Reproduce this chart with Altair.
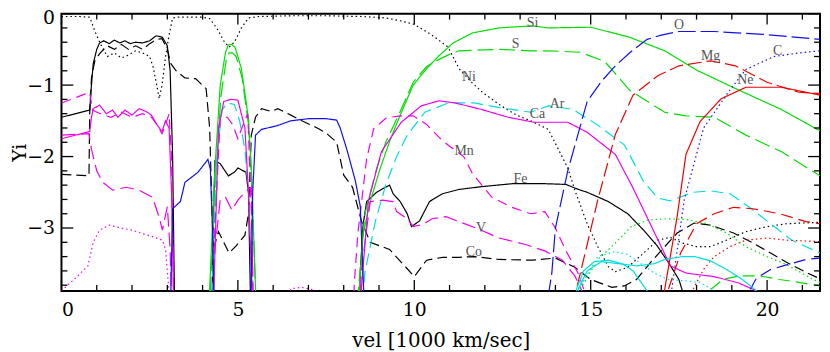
import altair as alt
import pandas as pd

LOW = -4.6

# ---- series data (x in 1000 km/s, y = log abundance) ----
NI_X = [0, 0.5, 0.8, 0.95, 1.1, 1.3, 1.5, 1.7, 1.9, 2.1, 2.3, 2.5, 2.6, 2.7, 2.77, 2.85, 2.95, 3.05, 3.15, 3.3, 3.6, 4.0, 4.2, 4.4, 4.6, 4.75, 4.9, 5.1, 5.3, 5.6, 6.5, 7.5, 8.5, 9.2, 9.6, 10.0, 10.5, 10.96, 11.27, 11.6, 11.93, 12.46, 12.9, 13.3, 13.8, 14.35, 14.55, 14.9, 15.2, 15.5, 15.7, 16.05, 16.5, 16.9, 17.25, 17.6, 18.0, 18.4, 18.85, 19.4, 20.0, 20.55, 21.5]
NI_Y = [-0.04, -0.04, -0.05, -0.25, -0.42, -0.6, -0.55, -0.62, -0.58, -0.52, -0.55, -0.6, -0.75, -1.0, -1.19, -1.0, -0.6, -0.3, -0.06, -0.05, -0.05, -0.05, -0.07, -0.2, -0.38, -0.47, -0.4, -0.2, -0.06, -0.04, -0.03, -0.03, -0.04, -0.06, -0.1, -0.15, -0.3, -0.47, -0.77, -0.95, -1.1, -1.29, -1.42, -1.5, -1.62, -2.16, -2.47, -2.94, -3.26, -3.54, -3.61, -3.55, -3.35, -3.17, -3.13, -3.21, -3.26, -3.26, -3.17, -3.05, -2.98, -2.94, -2.92]

FE_X = [0, 0.8, 0.85, 0.9, 1.0, 1.08, 1.2, 1.35, 1.5, 1.65, 1.8, 1.95, 2.1, 2.3, 2.5, 2.68, 2.86, 3.0, 3.08, 3.15, 3.22, 4.25, 4.3, 4.35, 4.5, 4.73, 4.9, 5.0, 5.23, 5.3, 5.38, 8.4, 8.45, 8.55, 8.65, 8.93, 9.1, 9.3, 9.4, 9.6, 9.8, 9.92, 10.15, 10.43, 10.8, 11.27, 11.93, 12.77, 13.72, 14.3, 14.65, 14.9, 15.5, 16.05, 16.5, 16.9, 17.2, 17.5, 17.6, 17.7]
FE_Y = [-1.45, -1.35, -1.0, -0.7, -0.5, -0.41, -0.38, -0.42, -0.37, -0.41, -0.38, -0.42, -0.4, -0.41, -0.38, -0.31, -0.33, -0.45, -0.8, -2.0, LOW, LOW, -3.0, -2.06, -2.1, -2.27, -2.22, -2.16, -2.22, -2.5, LOW, LOW, -3.77, -2.95, -2.63, -2.5, -2.45, -2.4, -2.52, -2.63, -2.8, -2.98, -2.9, -2.63, -2.52, -2.46, -2.42, -2.38, -2.38, -2.39, -2.46, -2.5, -2.63, -2.8, -3.03, -3.26, -3.48, -3.72, -3.88, LOW]

CO_X = [0, 0.78, 0.8, 0.85, 0.95, 1.1, 1.3, 1.5, 1.7, 1.9, 2.1, 2.3, 2.5, 2.7, 2.85, 3.0, 3.1, 3.25, 3.5, 3.8, 4.1, 4.2, 4.3, 4.45, 4.6, 4.75, 4.95, 5.2, 5.3, 5.38, 5.5, 5.67, 5.95, 6.13, 6.5, 6.78, 7.25, 7.5, 7.8, 8.0, 8.25, 8.5, 8.75, 9.3, 9.8, 10.0, 10.35, 10.8, 11.27, 11.7, 12.4, 13.35, 14.0, 14.55, 15.0, 15.6, 15.95, 16.3, 16.7, 17.1, 17.45, 17.93, 18.4, 19.05, 19.6, 20.1, 20.55, 21.1, 21.5]
CO_Y = [-2.25, -2.27, -1.4, -0.9, -0.65, -0.55, -0.45, -0.5, -0.43, -0.5, -0.45, -0.5, -0.42, -0.36, -0.35, -0.5, -0.7, -0.8, -0.9, -0.91, -1.05, -1.6, -3.3, -3.05, -3.2, -3.35, -3.25, -3.1, -2.8, -1.7, -1.45, -1.33, -1.37, -1.33, -1.42, -1.49, -1.6, -1.67, -1.8, -2.26, -2.43, -2.9, -3.2, -3.3, -3.57, -3.68, -3.45, -3.41, -3.41, -3.4, -3.44, -3.45, -3.42, -3.55, -3.72, -3.83, -3.81, -3.72, -3.48, -3.26, -3.07, -2.93, -2.96, -3.07, -3.21, -3.35, -3.48, -3.62, -3.71]

SI_X = [0, 4.15, 4.2, 4.35, 4.5, 4.65, 4.73, 4.82, 4.92, 5.1, 5.3, 5.38, 5.5, 5.55, 8.4, 8.45, 8.55, 8.75, 9.03, 9.3, 9.6, 9.97, 10.35, 10.7, 11.1, 11.65, 12.4, 13.35, 13.8, 15.0, 16.1, 17.1, 18.0, 19.2, 20.4, 21.5]
SI_Y = [LOW, LOW, -3.85, -2.16, -1.0, -0.54, -0.44, -0.43, -0.47, -0.77, -1.47, -2.16, -3.85, LOW, LOW, -3.77, -3.08, -2.63, -2.17, -1.79, -1.42, -1.0, -0.77, -0.59, -0.41, -0.27, -0.2, -0.17, -0.2, -0.19, -0.33, -0.52, -0.79, -1.07, -1.34, -1.64]

S_X = [0, 4.15, 4.22, 4.37, 4.52, 4.67, 4.75, 4.85, 4.95, 5.12, 5.3, 5.38, 5.5, 5.55, 8.35, 8.42, 8.6, 8.93, 9.2, 9.6, 9.97, 10.35, 10.7, 11.0, 11.27, 12.4, 13.35, 13.8, 14.7, 15.4, 16.1, 17.1, 17.7, 18.5, 19.4, 20.4, 21.5]
S_Y = [LOW, LOW, -3.85, -2.3, -1.15, -0.65, -0.55, -0.55, -0.6, -0.9, -1.55, -2.2, -3.85, LOW, LOW, -3.85, -2.8, -2.17, -1.79, -1.37, -0.96, -0.74, -0.64, -0.57, -0.52, -0.5, -0.52, -0.52, -0.54, -0.67, -1.07, -1.38, -1.43, -1.45, -1.7, -1.93, -2.27]

AR_X = [0, 4.2, 4.27, 4.4, 4.55, 4.7, 4.9, 5.05, 5.2, 5.3, 5.4, 5.45, 8.45, 8.6, 8.9, 9.2, 9.5, 9.8, 10.3, 10.96, 11.7, 12.46, 13.3, 13.8, 14.5, 15.2, 15.96, 16.5, 16.9, 17.25, 17.9, 18.4, 18.95, 19.5, 20.1, 20.7, 21.5]
AR_Y = [LOW, LOW, -3.85, -2.0, -1.35, -1.25, -1.27, -1.5, -1.9, -2.5, -3.85, LOW, LOW, -3.62, -2.9, -2.38, -2.0, -1.7, -1.38, -1.25, -1.25, -1.32, -1.38, -1.29, -1.34, -1.56, -1.84, -2.35, -2.58, -2.62, -2.5, -2.48, -2.52, -2.71, -2.94, -3.17, -3.35]

CA_X = [0, 0.8, 0.85, 0.9, 1.08, 1.27, 1.45, 1.6, 1.8, 2.0, 2.2, 2.4, 2.55, 2.7, 2.85, 2.95, 3.05, 3.12, 3.2, 4.25, 4.32, 4.45, 4.6, 4.8, 5.0, 5.2, 5.3, 5.4, 5.45, 8.4, 8.5, 8.7, 9.07, 9.63, 10.2, 10.7, 11.16, 11.9, 12.66, 13.4, 14.35, 14.9, 15.7, 16.2, 16.6, 16.9, 17.26, 17.7, 18.5, 19.2, 19.7, 19.8]
CA_Y = [-1.75, -1.65, -1.45, -1.33, -1.28, -1.4, -1.35, -1.45, -1.35, -1.42, -1.33, -1.37, -1.42, -1.55, -1.65, -1.5, -1.6, -2.5, LOW, LOW, -3.85, -1.6, -1.23, -1.2, -1.21, -1.6, -2.5, -3.85, LOW, LOW, -3.85, -2.62, -1.93, -1.52, -1.29, -1.22, -1.25, -1.34, -1.45, -1.52, -1.52, -1.66, -1.97, -2.44, -2.85, -3.16, -3.53, -3.63, -3.68, -3.77, -3.88, LOW]

MN_X = [0, 0.8, 0.88, 1.1, 1.4, 1.7, 2.0, 2.3, 2.55, 2.7, 2.85, 2.95, 3.05, 3.12, 3.2, 4.25, 4.35, 4.5, 4.7, 4.85, 5.0, 5.15, 5.28, 5.4, 5.45, 8.25, 8.3, 8.4, 8.65, 8.85, 9.2, 9.6, 9.97, 10.35, 10.8, 11.4, 11.65, 12.2, 12.77, 13.3, 13.7, 14.0, 14.3, 14.65, 14.8, 14.9]
MN_Y = [-1.25, -1.1, -1.35, -1.4, -1.45, -1.38, -1.45, -1.4, -1.45, -1.55, -1.68, -1.55, -1.4, -2.0, LOW, LOW, -3.0, -1.45, -1.45, -1.55, -1.75, -1.55, -1.4, -3.0, LOW, LOW, -3.77, -3.08, -2.03, -1.61, -1.46, -1.43, -1.43, -1.55, -1.78, -2.0, -2.24, -2.57, -2.71, -2.8, -2.77, -3.0, -3.32, -3.64, -3.85, LOW]

V_X = [0, 0.78, 0.85, 1.0, 1.17, 1.45, 1.84, 2.2, 2.58, 2.77, 2.86, 3.0, 3.08, 3.15, 4.25, 4.35, 4.5, 4.65, 4.83, 5.0, 5.2, 5.38, 5.45, 8.4, 8.5, 8.75, 9.1, 9.4, 9.5, 9.8, 9.97, 10.25, 10.5, 10.9, 11.85, 12.4, 13.15, 13.7, 14.2, 14.55, 14.75, 14.85]
V_Y = [-1.7, -1.68, -1.9, -2.2, -2.36, -2.47, -2.43, -2.47, -2.57, -2.85, -3.03, -2.7, -3.3, LOW, LOW, -3.3, -2.6, -2.57, -2.75, -2.61, -2.5, -2.43, LOW, LOW, -3.6, -2.63, -2.61, -2.63, -2.77, -2.87, -2.98, -2.95, -2.87, -2.84, -3.02, -3.14, -3.23, -3.32, -3.45, -3.67, -3.88, LOW]

CR_X = [0, 0.4, 0.75, 0.9, 1.08, 1.35, 1.7, 2.0, 2.3, 2.58, 2.86, 2.95, 3.05, 3.1, 6.2, 6.5, 6.8, 7.1, 7.4, 21.5]
CR_Y = [-3.88, -3.7, -3.53, -3.2, -3.03, -2.96, -3.0, -3.03, -3.08, -3.12, -3.17, -3.3, -3.9, LOW, LOW, -3.85, -3.83, -3.86, LOW, LOW]

TI_X = [0, 3.05, 3.1, 3.15, 3.37, 3.5, 3.87, 4.15, 4.22, 4.28, 4.35, 5.35, 5.42, 5.5, 5.67, 6.1, 6.5, 7.0, 7.5, 7.8, 7.9, 8.1, 8.33, 8.47, 8.56, 8.62, 21.5]
TI_Y = [LOW, LOW, -3.88, -2.73, -2.63, -2.36, -2.22, -2.04, -2.18, -3.0, LOW, LOW, -2.5, -1.7, -1.62, -1.57, -1.5, -1.47, -1.47, -1.49, -1.6, -1.92, -2.34, -2.7, -3.8, LOW, LOW]

O_X = [13.6, 13.9, 14.0, 14.35, 14.9, 15.3, 15.7, 16.1, 16.6, 17.0, 17.5, 18.5, 19.9, 21.5]
O_Y = [LOW, -3.62, -3.0, -2.2, -1.23, -0.95, -0.73, -0.55, -0.36, -0.3, -0.25, -0.25, -0.29, -0.36]

MG_X = [14.5, 14.6, 15.2, 15.7, 16.2, 16.9, 17.5, 18.4, 19.1, 20.0, 20.9, 21.5]
MG_Y = [LOW, -3.85, -2.61, -1.69, -1.14, -0.87, -0.73, -0.66, -0.73, -0.96, -1.1, -1.12]

NE_X = [17.0, 17.1, 17.45, 17.7, 18.1, 18.7, 19.4, 20.4, 21.5]
NE_Y = [LOW, -3.85, -2.84, -1.97, -1.51, -1.19, -1.03, -1.03, -1.14]

C_X = [17.2, 17.3, 17.65, 18.2, 18.9, 19.4, 20.2, 20.9, 21.5]
C_Y = [LOW, -3.85, -2.61, -1.6, -1.1, -0.78, -0.6, -0.55, -0.52]

NA_X = [17.1, 17.2, 17.55, 18.0, 18.5, 19.05, 19.6, 20.35, 21.1, 21.5]
NA_Y = [LOW, -3.86, -3.35, -2.94, -2.8, -2.71, -2.73, -2.8, -2.91, -2.94]

RDOT_X = [17.8, 17.9, 18.2, 18.5, 18.95, 19.4, 20.0, 20.55, 21.5]
RDOT_Y = [LOW, -3.86, -3.58, -3.4, -3.26, -3.17, -3.14, -3.17, -3.19]

GDOT_X = [14.6, 14.7, 15.2, 15.7, 16.15, 16.6, 17.1, 17.7, 18.3, 18.85, 19.4, 20.0, 20.55, 21.3, 21.5]
GDOT_Y = [LOW, -3.86, -3.44, -3.21, -2.98, -2.89, -2.87, -2.88, -2.94, -3.07, -3.26, -3.4, -3.51, -3.72, -3.76]

GDASH_X = [18.3, 18.4, 18.75, 19.2, 19.8, 20.35, 20.9, 21.5]
GDASH_Y = [LOW, -3.86, -3.72, -3.67, -3.67, -3.72, -3.76, -3.81]

BDASH_X = [19.4, 19.5, 19.7, 20.1, 20.45, 21.1, 21.5]
BDASH_Y = [LOW, -3.88, -3.7, -3.58, -3.53, -3.44, -3.42]

CYA_X = [14.5, 14.6, 14.8, 15.1, 15.5, 15.9, 16.2, 16.6, 16.7]
CYA_Y = [LOW, -3.85, -3.6, -3.47, -3.45, -3.5, -3.6, -3.88, LOW]

CYB_X = [14.55, 14.65, 14.9, 15.3, 15.8, 16.3, 16.8, 17.1, 17.6, 17.95, 18.4, 18.85, 19.3, 19.7, 19.8]
CYB_Y = [LOW, -3.85, -3.6, -3.47, -3.5, -3.53, -3.5, -3.44, -3.4, -3.4, -3.46, -3.58, -3.72, -3.88, LOW]

CYDOT_X = [14.55, 14.65, 15.2, 15.68, 16.05, 16.4, 16.8, 17.2, 17.7, 18.1, 18.5, 18.7]
CYDOT_Y = [LOW, -3.86, -3.4, -3.33, -3.37, -3.49, -3.63, -3.72, -3.74, -3.76, -3.88, LOW]

# labels on the curves
LABEL_TEXT = ["Si", "S", "Ni", "Ar", "Ca", "Mn", "Fe", "V", "Co", "O", "Mg", "C", "Ne"]
LABEL_X = [13.35, 12.87, 11.55, 14.05, 13.49, 11.41, 13.01, 11.89, 11.69, 17.5, 18.4, 20.3, 19.38]
LABEL_Y = [-0.13, -0.43, -0.89, -1.26, -1.41, -1.92, -2.31, -3.0, -3.34, -0.16, -0.6, -0.52, -0.93]

X_MAJOR = [0, 5, 10, 15, 20]
X_MINOR = [v for v in range(0, 22) if v % 5 != 0]
Y_MAJOR = [0, -1, -2, -3]
Y_MINOR = [-0.2, -0.4, -0.6, -0.8, -1.2, -1.4, -1.6, -1.8, -2.2, -2.4, -2.6, -2.8, -3.2, -3.4, -3.6, -3.8]

GREEN, BLUE, MAG, CYAN, RED, BLACK = "#00dd00", "#1010ee", "#ee00ee", "#00dddd", "#ee0000", "#000000"
SOLID, DOT = [1, 0], [1.5, 3]

SERIES = [
    ("Ni", NI_X, NI_Y, BLACK, DOT),
    ("Fe", FE_X, FE_Y, BLACK, SOLID),
    ("Co", CO_X, CO_Y, BLACK, [10, 5]),
    ("Si", SI_X, SI_Y, GREEN, SOLID),
    ("S", S_X, S_Y, GREEN, [16, 6]),
    ("Ar", AR_X, AR_Y, CYAN, [12, 6]),
    ("Ca", CA_X, CA_Y, MAG, SOLID),
    ("Mn", MN_X, MN_Y, MAG, [10, 6]),
    ("V", V_X, V_Y, MAG, [14, 6]),
    ("Cr", CR_X, CR_Y, MAG, DOT),
    ("Ti", TI_X, TI_Y, BLUE, SOLID),
    ("O", O_X, O_Y, BLUE, [18, 5]),
    ("Mg", MG_X, MG_Y, RED, [14, 5]),
    ("Ne", NE_X, NE_Y, RED, SOLID),
    ("C", C_X, C_Y, BLUE, DOT),
    ("Na", NA_X, NA_Y, RED, [12, 6]),
    ("Rdot", RDOT_X, RDOT_Y, RED, DOT),
    ("Gdot", GDOT_X, GDOT_Y, GREEN, DOT),
    ("Gdash", GDASH_X, GDASH_Y, GREEN, [12, 6]),
    ("Bdash", BDASH_X, BDASH_Y, BLUE, [12, 6]),
    ("CyA", CYA_X, CYA_Y, CYAN, SOLID),
    ("CyB", CYB_X, CYB_Y, CYAN, SOLID),
    ("Cydot", CYDOT_X, CYDOT_Y, CYAN, DOT),
]

rows = []
for name, xs, ys, _, _ in SERIES:
    for i, (xv, yv) in enumerate(zip(xs, ys)):
        rows.append({"series": name, "x": xv, "y": yv, "i": i})
df = pd.DataFrame(rows)

W, H = 766, 280
XMAX = 21.5
xscale = alt.Scale(domain=[0, XMAX], nice=False, zero=False)
yscale = alt.Scale(domain=[-3.88, 0.0], nice=False, zero=False)
FONT = "DejaVu Serif"

lines = alt.Chart(df).mark_line(clip=True, strokeWidth=1.2).encode(
    x=alt.X("x:Q", scale=xscale,
            axis=alt.Axis(values=X_MAJOR, format="d", ticks=False, domain=False, grid=False,
                          labelFont=FONT, labelFontSize=19, labelColor="black",
                          labelPadding=10, title="vel [1000 km/sec]", titleFont=FONT,
                          titleFontSize=20, titleFontWeight="normal", titleColor="black",
                          titlePadding=11)),
    y=alt.Y("y:Q", scale=yscale,
            axis=alt.Axis(values=Y_MAJOR, format="d", ticks=False, domain=False, grid=False,
                          labelFont=FONT, labelFontSize=19, labelColor="black",
                          labelPadding=7,
                          labelOffset={"condition": {"test": "datum.value == 0", "value": 4}, "value": 0},
                          title="Yi", titleFont=FONT, titleFontSize=19,
                          titleFontWeight="normal", titleColor="black",
                          titleX=-42, titleY=H / 2, titleAlign="center", titleBaseline="middle",
                          titleAngle=270)),
    color=alt.Color("series:N", scale=alt.Scale(domain=[s[0] for s in SERIES], range=[s[3] for s in SERIES]), legend=None),
    strokeDash=alt.StrokeDash("series:N", scale=alt.Scale(domain=[s[0] for s in SERIES], range=[s[4] for s in SERIES]), legend=None),
    order="i:Q",
)

labels_df = pd.DataFrame({"t": LABEL_TEXT, "x": LABEL_X, "y": LABEL_Y})
labels = alt.Chart(labels_df).mark_text(font="Liberation Serif", fontSize=14, color="#555555",
                                        align="center", baseline="middle").encode(
    x=alt.X("x:Q", scale=xscale), y=alt.Y("y:Q", scale=yscale), text="t:N")

xmaj = pd.DataFrame({"v": X_MAJOR})
xmin = pd.DataFrame({"v": X_MINOR})
ymaj = pd.DataFrame({"v": Y_MAJOR})
ymin = pd.DataFrame({"v": Y_MINOR})

def xticks(d, L):
    b = alt.Chart(d).mark_rule(color="black", strokeWidth=1.3).encode(
        x=alt.X("v:Q", scale=xscale), y=alt.value(H), y2=alt.value(H - L))
    t = alt.Chart(d).mark_rule(color="black", strokeWidth=1.3).encode(
        x=alt.X("v:Q", scale=xscale), y=alt.value(0), y2=alt.value(L))
    return [b, t]

def yticks(d, L):
    l = alt.Chart(d).mark_rule(color="black", strokeWidth=1.3).encode(
        y=alt.Y("v:Q", scale=yscale), x=alt.value(0), x2=alt.value(L))
    r = alt.Chart(d).mark_rule(color="black", strokeWidth=1.3).encode(
        y=alt.Y("v:Q", scale=yscale), x=alt.value(W), x2=alt.value(W - L))
    return [l, r]

layers = [lines, labels] + xticks(xmaj, 11) + xticks(xmin, 6) + yticks(ymaj, 12) + yticks(ymin, 6)

chart = alt.layer(*layers).properties(
    width=W, height=H,
    autosize=alt.AutoSizeParams(type="none"),
    padding={"left": 54, "top": 4, "right": 2, "bottom": 60},
).configure_view(stroke="black", strokeWidth=2)

chart.save("out.html", embed_options={"renderer": "svg", "actions": False})
